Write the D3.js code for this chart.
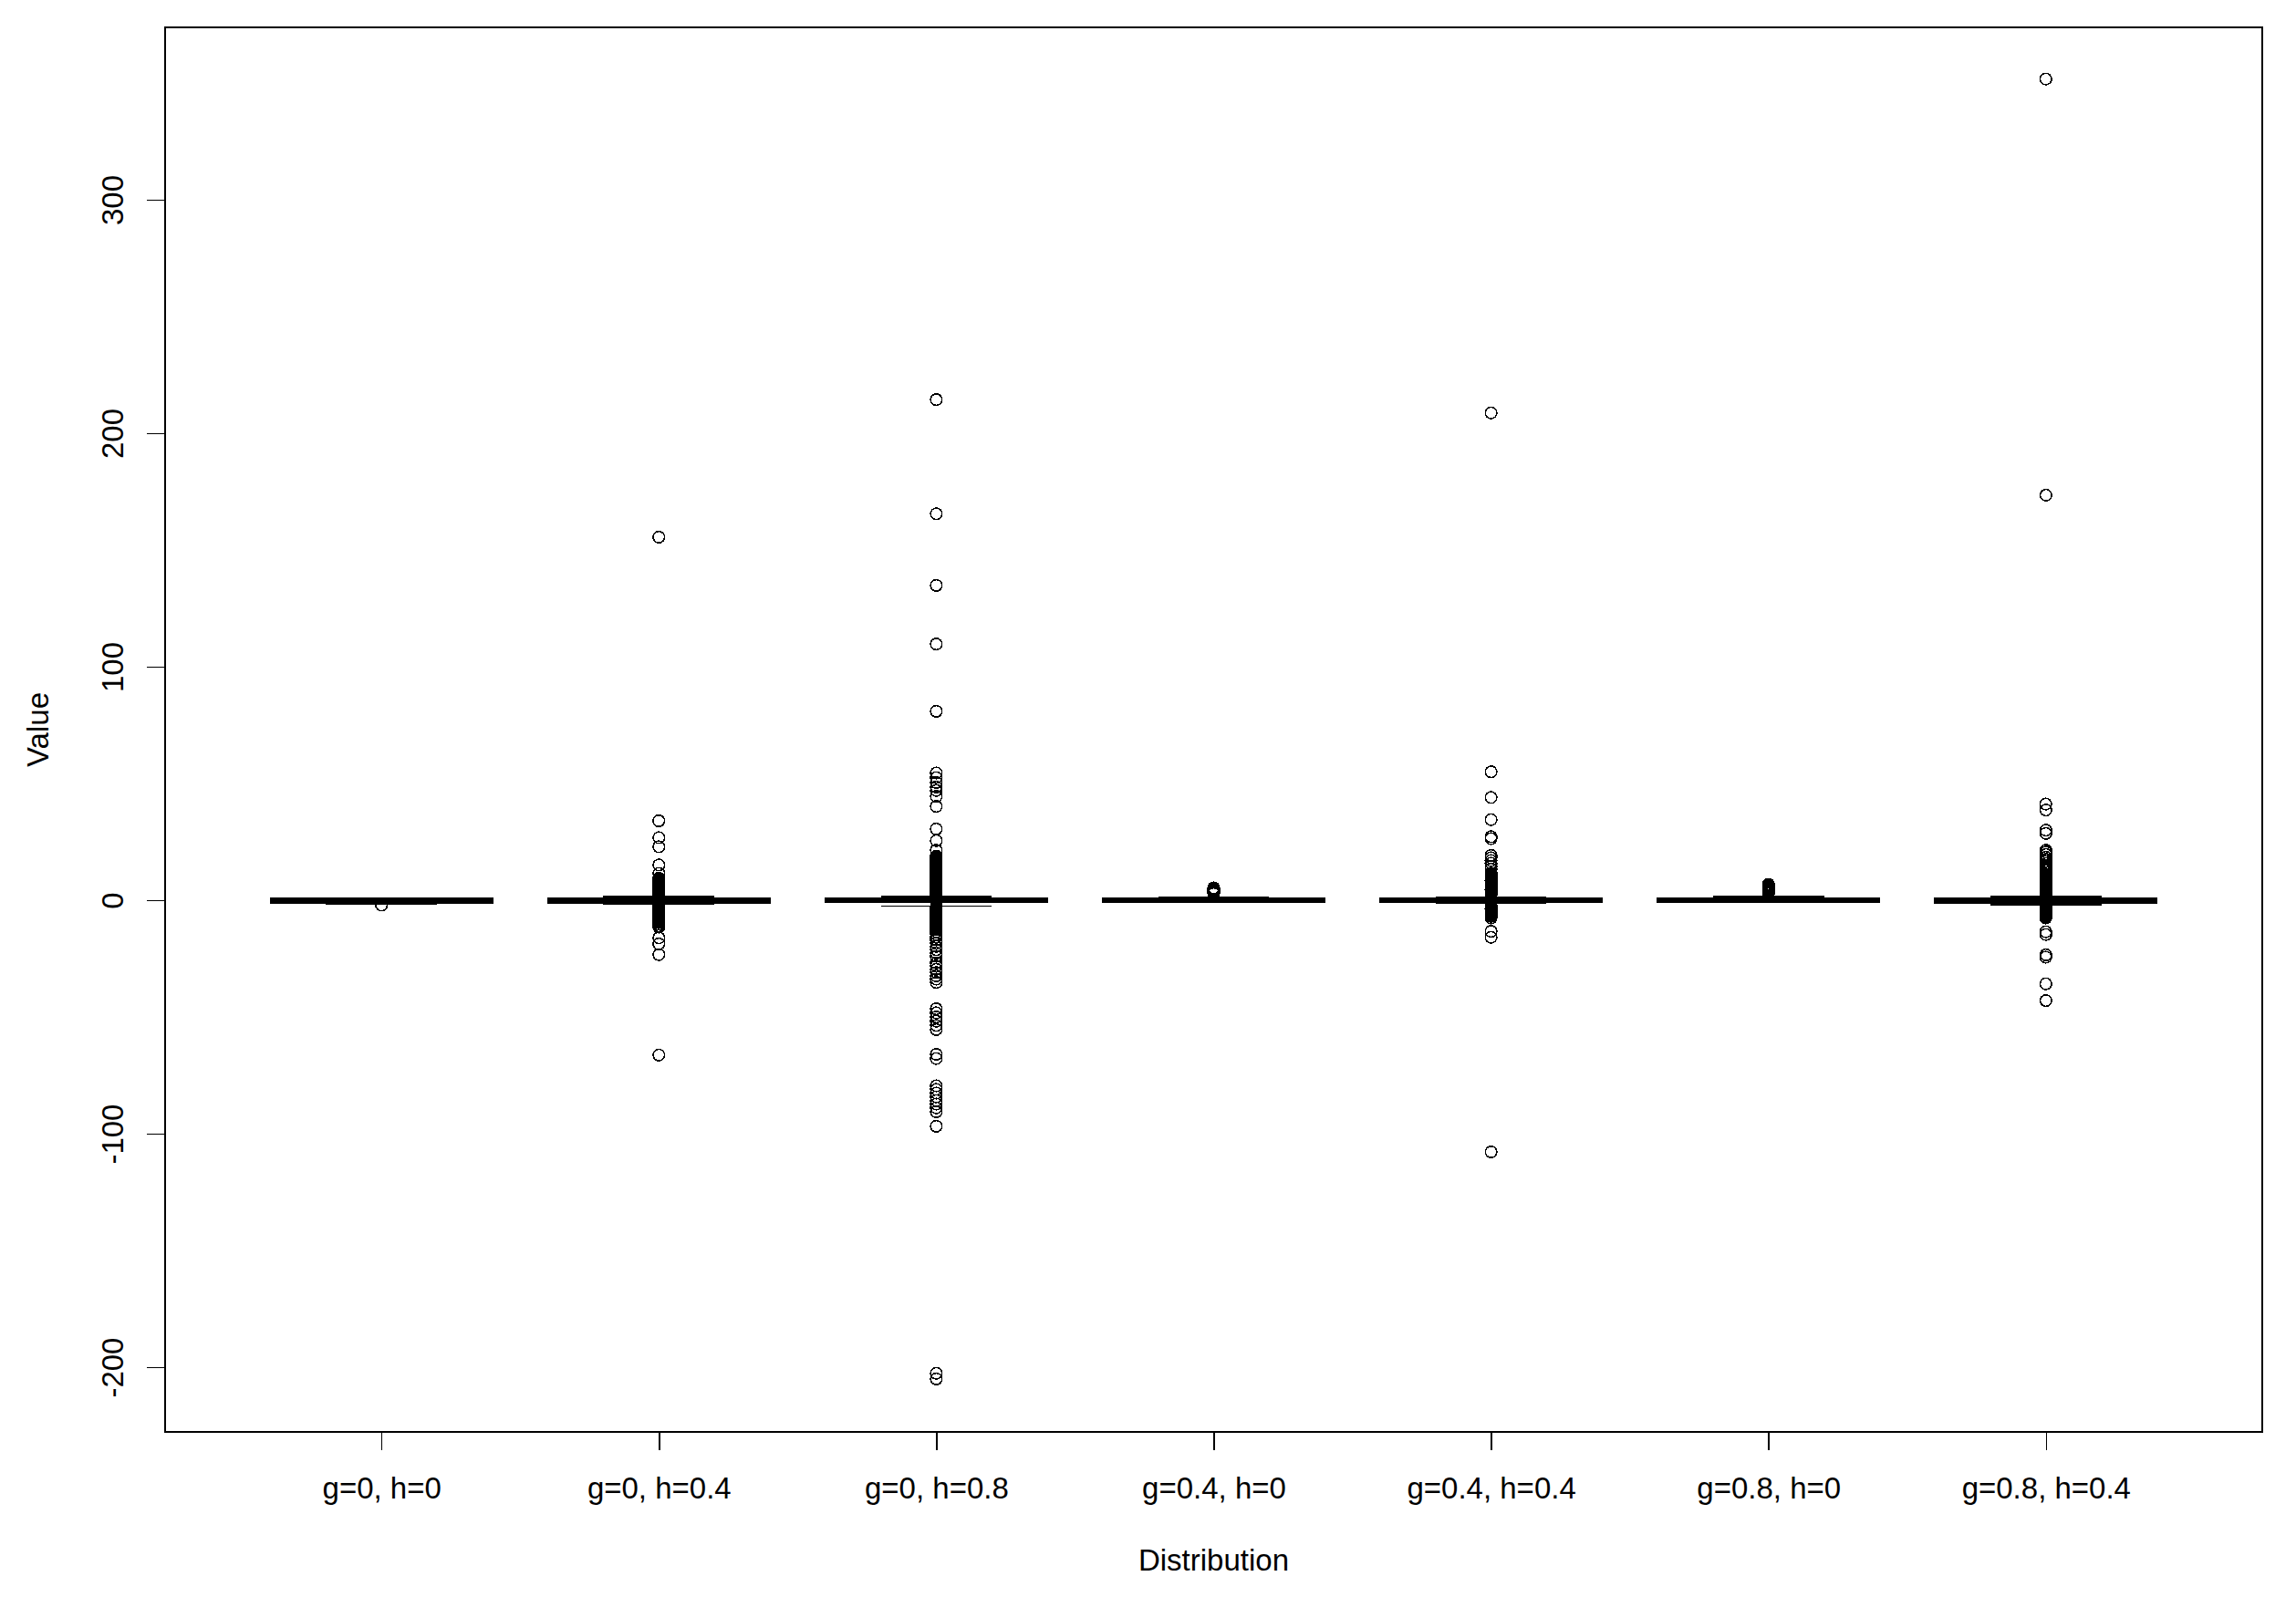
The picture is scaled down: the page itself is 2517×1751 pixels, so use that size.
<!DOCTYPE html>
<html>
<head>
<meta charset="utf-8">
<script src="https://cdn.jsdelivr.net/npm/d3@7"></script>
<style>
    body { margin: 0; background: #fff; }
    text { font-family: 'Liberation Sans', Arial, sans-serif; fill: #000; }
    line, rect, circle { shape-rendering: crispEdges; }
</style>
</head>
<body>
<div id="chart"></div>
<script>
// categories on the x axis
var categories = ["g=0, h=0", "g=0, h=0.4", "g=0, h=0.8", "g=0.4, h=0",
                  "g=0.4, h=0.4", "g=0.8, h=0", "g=0.8, h=0.4"];

// five-number summaries
var whiskerLow  = [-1.8, -1.65, -2.5, -1.0, -1.4, -1.0, -1.85];
var q1          = [-1.2, -1.05, -1.0, -0.8, -0.9, -0.95, -1.2];
var median      = [0, 0, 0, -0.05, 0, -0.1, 0];
var q3          = [1.0, 1.05, 1.0, 0.8, 0.9, 1.0, 1.05];
var whiskerHigh = [1.05, 1.65, 1.5, 1.1, 1.4, 1.5, 1.65];

// outliers per group
var outliersG0H0 = [-2.1];
var outliersG0H04 = [155.5, 34.0, 26.8, 22.9, 15.1, 11.5, 9.4, 8.8, 8.2, 7.6, 7.1, 6.6, 6.1, 5.6,
    5.1, 4.7, 4.3, 3.9, 3.5, 3.1, 2.8, 2.5, 2.2, -2.1, -2.5, -2.9, -3.3, -3.8, -4.3, -4.8, -5.3,
    -5.8, -6.3, -6.8, -7.3, -7.8, -8.4, -9.0, -9.6, -10.3, -11.0, -11.5, -16.1, -18.7, -23.3, -66.3];
var outliersG0H08 = [214.4, 165.5, 134.8, 109.7, 80.9, 54.5, 52.5, 50.4, 48.5, 47.0, 44.5, 40.2,
    30.5, 25.5, 21.4, 18.9, 18.3, 17.7, 17.1, 16.5, 15.9, 15.3, 14.7, 14.1, 13.5, 12.9, 12.3, 11.7,
    11.1, 10.5, 9.9, 9.3, 8.7, 8.1, 7.5, 6.9, 6.3, 5.7, 5.1, 4.5, 3.9, 3.4, 2.9, 2.5,
    -2.6, -3.1, -3.6, -4.1, -4.6, -5.1, -5.6, -6.1, -6.6, -7.1, -7.7, -8.3, -8.9, -9.5, -10.1,
    -10.7, -11.3, -11.9, -12.5, -13.5, -14.6, -15.8, -17.0, -18.4, -19.8, -21.2, -22.6, -24.0,
    -26.8, -28.2, -29.6, -31.0, -32.4, -33.8, -35.2, -46.5, -48.2, -50.0, -51.8, -53.6, -55.4,
    -66.0, -67.8, -79.5, -81.0, -82.6, -84.2, -85.8, -87.3, -88.9, -90.6, -96.8, -202.6, -205.0];
var outliersG04H0 = [5.3, 4.9, 4.6, 4.3, 4.0, 3.8, 3.6, 3.4, 3.2, 3.0, 2.8];
var outliersG04H04 = [208.7, 55.0, 44.0, 34.5, 27.2, 26.4, 19.2, 18.2, 17.0, 15.8, 14.5, 13.3,
    11.6, 10.9, 10.2, 9.6, 9.0, 8.4, 7.8, 7.2, 6.6, 6.0, 5.5, 5.0, 4.5, 4.0, 3.5, 3.1, 2.7, 2.4,
    -2.2, -2.7, -3.2, -3.7, -4.2, -4.7, -5.2, -5.7, -6.3, -6.9, -7.6, -13.3, -15.9, -107.8];
var outliersG08H0 = [6.8, 6.3, 5.9, 5.5, 5.1, 4.8, 4.5, 4.2, 3.9, 3.6, 3.4, 3.2, 3.0, 2.8];
var outliersG08H04 = [351.7, 173.5, 41.2, 38.6, 30.0, 28.6, 21.4, 20.6, 19.6, 18.4, 17.5, 16.6,
    15.7, 14.9, 14.1, 13.3, 12.6, 11.9, 11.2, 10.5, 9.9, 9.3, 8.7, 8.1, 7.5, 6.9, 6.3, 5.7, 5.2,
    4.7, 4.2, 3.7, 3.2, 2.8, 2.5, -2.2, -2.7, -3.2, -3.7, -4.2, -4.7, -5.2, -5.8, -6.4, -7.0,
    -7.6, -13.5, -14.7, -23.4, -24.4, -35.8, -43.0];

var outliers = [outliersG0H0, outliersG0H04, outliersG0H08, outliersG04H0,
                outliersG04H04, outliersG08H0, outliersG08H04];

var yTicks = [-200, -100, 0, 100, 200, 300];


function main(domSelector) {

    var width = 2517;
    var height = 1751;
    var margin = {top: 30, bottom: 181, left: 181, right: 37};
    var fontSize = 33;
    var lw = 1.6;

    var svg = d3.select(domSelector).append('svg')
        .attr('width', width)
        .attr('height', height);

    svg.append('rect')
        .attr('width', width).attr('height', height)
        .attr('fill', '#fff');

    var xScale = d3.scalePoint()
        .domain(categories)
        .range([margin.left, width - margin.right])
        .padding(0.78);
    var yScale = d3.scaleLinear()
        .domain([-227.7, 373.8])
        .range([height - margin.bottom, margin.top]);

    var step = xScale.step();
    var boxWidth = 0.8 * step;
    var stapleWidth = 0.5 * boxWidth;

    var groups = categories.map(function (c, i) {
        return {
            key: c,
            lo: whiskerLow[i], q1: q1[i], med: median[i], q3: q3[i], hi: whiskerHigh[i],
            out: outliers[i]
        };
    });

    var boxes = svg.selectAll('g.box')
        .data(groups)
        .enter()
        .append('g')
        .attr('class', 'box')
        .attr('transform', function (d) { return 'translate(' + xScale(d.key) + ',0)'; });

    // whiskers (dashed, as in R)
    boxes.append('line')
        .attr('x1', 0).attr('x2', 0)
        .attr('y1', function (d) { return yScale(d.q3); })
        .attr('y2', function (d) { return yScale(d.hi); })
        .attr('stroke', '#000').attr('stroke-width', lw).attr('stroke-dasharray', '6,6');
    boxes.append('line')
        .attr('x1', 0).attr('x2', 0)
        .attr('y1', function (d) { return yScale(d.q1); })
        .attr('y2', function (d) { return yScale(d.lo); })
        .attr('stroke', '#000').attr('stroke-width', lw).attr('stroke-dasharray', '6,6');

    // staples
    ['lo', 'hi'].forEach(function (k) {
        boxes.append('line')
            .attr('x1', -stapleWidth / 2).attr('x2', stapleWidth / 2)
            .attr('y1', function (d) { return yScale(d[k]); })
            .attr('y2', function (d) { return yScale(d[k]); })
            .attr('stroke', '#000').attr('stroke-width', lw);
    });

    // box
    boxes.append('rect')
        .attr('x', -boxWidth / 2)
        .attr('width', boxWidth)
        .attr('y', function (d) { return yScale(d.q3); })
        .attr('height', function (d) { return yScale(d.q1) - yScale(d.q3); })
        .attr('fill', 'none')
        .attr('stroke', '#000').attr('stroke-width', lw);

    // median
    boxes.append('line')
        .attr('x1', -boxWidth / 2).attr('x2', boxWidth / 2)
        .attr('y1', function (d) { return yScale(d.med); })
        .attr('y2', function (d) { return yScale(d.med); })
        .attr('stroke', '#000').attr('stroke-width', 3 * lw);

    // outliers
    boxes.selectAll('circle')
        .data(function (d) { return d.out; })
        .enter()
        .append('circle')
        .attr('cx', 0)
        .attr('cy', function (d) { return yScale(d); })
        .attr('r', 6.3)
        .attr('fill', 'none')
        .attr('stroke', '#000').attr('stroke-width', lw);

    // axes
    var yAxis = svg.append('g')
        .attr('transform', 'translate(' + margin.left + ',0)')
        .call(d3.axisLeft(yScale).tickValues(yTicks).tickSize(20).tickFormat(d3.format('d')));
    yAxis.select('.domain').remove();
    yAxis.selectAll('.tick line').attr('stroke-width', lw);
    yAxis.selectAll('.tick text')
        .attr('x', null).attr('dy', null)
        .attr('font-size', fontSize)
        .attr('text-anchor', 'middle')
        .attr('transform', 'translate(-46,0) rotate(-90)')
        .text(function (d) { return String(d); });

    var xAxis = svg.append('g')
        .attr('transform', 'translate(0,' + (height - margin.bottom) + ')')
        .call(d3.axisBottom(xScale).tickSize(20));
    xAxis.select('.domain').remove();
    xAxis.selectAll('.tick line').attr('stroke-width', lw);
    xAxis.selectAll('.tick text')
        .attr('y', 73).attr('dy', null)
        .attr('font-size', fontSize);

    // frame
    svg.append('rect')
        .attr('x', margin.left).attr('y', margin.top)
        .attr('width', width - margin.left - margin.right)
        .attr('height', height - margin.top - margin.bottom)
        .attr('fill', 'none')
        .attr('stroke', '#000').attr('stroke-width', lw);

    // titles
    svg.append('text')
        .attr('transform', 'translate(53,' + (margin.top + (height - margin.bottom - margin.top) / 2) + ') rotate(-90)')
        .attr('text-anchor', 'middle')
        .attr('font-size', fontSize)
        .text('Value');
    svg.append('text')
        .attr('x', margin.left + (width - margin.left - margin.right) / 2)
        .attr('y', 1722)
        .attr('text-anchor', 'middle')
        .attr('font-size', fontSize)
        .text('Distribution');
}

main('#chart');
</script>
</body>
</html>
